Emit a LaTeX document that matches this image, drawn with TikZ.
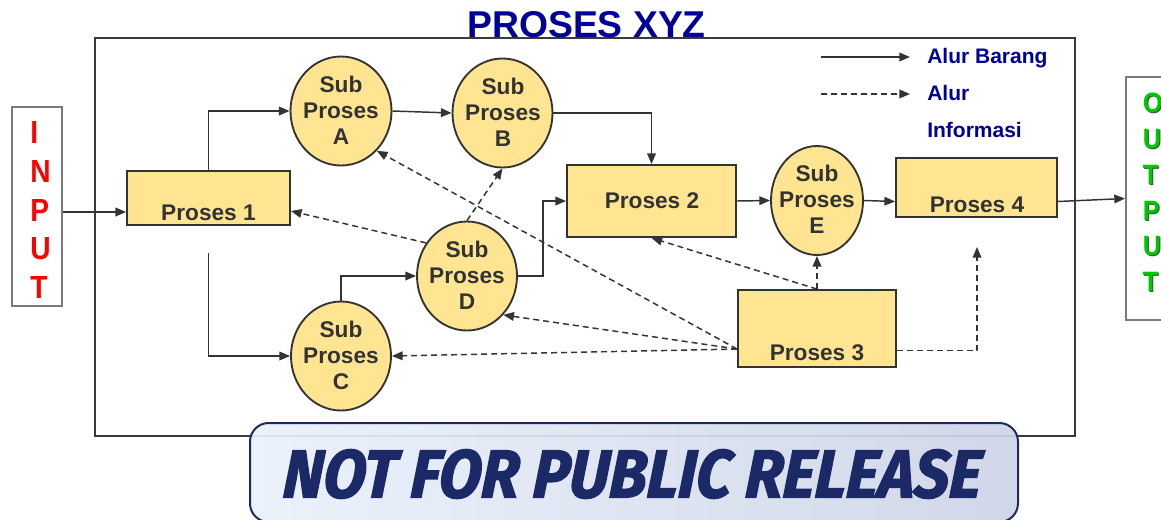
\documentclass[tikz,border=0pt]{standalone}
\usepackage{fontspec}
\usepackage{graphicx}
\setmainfont{Liberation Sans}
\newfontfamily\narrowfont[FakeStretch=0.88]{Liberation Sans}
\newfontfamily\outfont[FakeStretch=0.9]{Liberation Sans}
\newfontfamily\wmfont[FakeBold=2.2,FakeSlant=0.08]{Fira Sans}
\usetikzlibrary{arrows.meta,shapes.geometric,calc}

\definecolor{ink}{HTML}{333333}
\definecolor{boxfill}{HTML}{FFE591}
\definecolor{titleblue}{HTML}{000099}
\definecolor{framegray}{HTML}{3A3A3A}
\definecolor{sidegray}{HTML}{7A7A7A}
\definecolor{outgreen}{HTML}{00C800}
\definecolor{outshadow}{HTML}{2E5A2E}
\definecolor{wmnavy}{HTML}{1B2A66}
\definecolor{wmleft}{HTML}{E9F1FB}
\definecolor{wmright}{HTML}{CDD4E6}

\tikzset{
  pbox/.style={draw=ink, line width=1.4pt, fill=boxfill, inner sep=0pt},
  subproc/.style={ellipse, draw=ink, line width=1.4pt, fill=boxfill, inner sep=0pt,
    minimum width=75pt, minimum height=81.75pt},
  subtext/.style={align=center, text=ink, inner sep=0pt,
    font=\fontsize{17}{19.5}\selectfont\bfseries},
  ptext/.style={anchor=base, text=ink, inner sep=0pt,
    font=\fontsize{17}{20}\selectfont\bfseries},
  legtext/.style={anchor=base west, text=titleblue, inner sep=0pt,
    font=\fontsize{15.75}{18}\selectfont\bfseries},
  sidebox/.style={draw=sidegray, line width=1.5pt, fill=white, inner sep=0pt},
  flow/.style={draw=ink, line width=1.1pt, -{Triangle[length=8pt,width=6.5pt]}},
  info/.style={flow, dash pattern=on 4.5pt off 3pt},
}

\begin{document}
\begin{tikzpicture}[x=0.75pt, y=-0.75pt]
\useasboundingbox (0,0) rectangle (1161,519);
\clip (0,0) rectangle (1161,519);

% outer process frame and title
\node[draw=framegray, line width=1.2pt, minimum width=735pt, minimum height=298.5pt,
  inner sep=0pt] (frame) at (585,237) {};
\node[anchor=base, text=titleblue, inner sep=0pt,
  font=\fontsize{28}{30}\selectfont\bfseries] (title) at (586.5,37) {PROSES XYZ};

% input and output columns
\node[sidebox, minimum width=37.5pt, minimum height=149.25pt] (IN) at (37,206.5) {};
\node[anchor=west, align=left, text=red, inner sep=0pt,
  font=\narrowfont\fontsize{24}{28.9}\selectfont\bfseries] (INtxt) at (30,210)
  {I\\N\\P\\U\\T};

\node[sidebox, minimum width=48pt, minimum height=182.25pt] (OUT) at (1158,198.5) {};
\node[anchor=west, align=left, text=outshadow, inner sep=0pt,
  font=\outfont\fontsize{21}{26.85}\selectfont\bfseries] (OUTsh) at (1143.5,193.5)
  {O\\U\\T\\P\\U\\T};
\node[anchor=west, align=left, text=outgreen, inner sep=0pt,
  font=\outfont\fontsize{21}{26.85}\selectfont\bfseries] (OUTtxt) at (1142.5,192.5)
  {O\\U\\T\\P\\U\\T};

% process boxes
\node[pbox, minimum width=122.25pt, minimum height=40.5pt]  (P1) at (208.5,198) {};
\node[ptext] (P1t) at (208.5,220) {Proses 1};
\node[pbox, minimum width=126.75pt, minimum height=54pt]    (P2) at (651.5,201) {};
\node[ptext] (P2t) at (652,208.5) {Proses 2};
\node[pbox, minimum width=118.5pt, minimum height=57.75pt]  (P3) at (817,328.5) {};
\node[ptext] (P3t) at (817,360) {Proses 3};
\node[pbox, minimum width=120.75pt, minimum height=44.25pt] (P4) at (976.5,187.5) {};
\node[ptext] (P4t) at (977,212) {Proses 4};

% sub-processes
\node[subproc, minimum width=75.75pt] (A) at (341,111) {};
\node[subtext] (At) at (341,110) {Sub\\Proses\\A};
\node[subproc] (B) at (502.5,113) {};
\node[subtext] (Bt) at (503,112) {Sub\\Proses\\B};
\node[subproc] (C) at (341,356) {};
\node[subtext] (Ct) at (341,355) {Sub\\Proses\\C};
\node[subproc] (D) at (467,276) {};
\node[subtext] (Dt) at (467,275) {Sub\\Proses\\D};
\node[subproc, minimum width=69pt] (E) at (817,200.5) {};
\node[subtext] (Et) at (817,199.5) {Sub\\Proses\\E};

% material flow
\coordinate (p1in) at ([yshift=-10.5pt]P1.west);
\draw[flow] (IN.east |- p1in) -- (p1in);
\draw[flow] (P1.north) |- (A.west);
\coordinate (p1down) at ([yshift=-20.25pt]P1.south);
\draw[flow] (p1down) |- (C.west);
\draw[flow] (A.east) -- (B.west);
\draw[flow] (B.east) -| (P2.north);
\draw[flow] (C.north) |- (D.west);
\draw[flow] (D.east) -- ++(25,0) |- (P2.west);
\draw[flow] (P2.east) -- (E.west);
\draw[flow] (E.east) -- ([yshift=-10.5pt]P4.west);
\draw[flow] ([yshift=-10.5pt]P4.east) -- (OUT.west);

% information flow
\coordinate (p3src) at ([yshift=-15.4pt]P3.west);
\draw[info] (D.141) -- ([yshift=-9.75pt]P1.east);
\draw[info] (D.north) -- (B.south);
\draw[info] (p3src) -- (A.-48);
\draw[info] (p3src) -- (D.-47);
\draw[info] (p3src) -- (C.east);
\draw[info] (P3.north) -- (P2.south);
\draw[info] (P3.north) -- (E.south);
\coordinate (p4hint) at (977,247);
\draw[info] ([yshift=-16.5pt]P3.east) -| (p4hint);

% legend
\coordinate (lg1a) at (821,57);
\coordinate (lg1b) at (910,57);
\coordinate (lg2a) at (821,94);
\coordinate (lg2b) at (910,94);
\draw[flow] (lg1a) -- (lg1b);
\draw[info] (lg2a) -- (lg2b);
\node[legtext] (lgA) at (927,63) {Alur Barang};
\node[legtext] (lgB) at (927,100) {Alur};
\node[legtext] (lgC) at (927,137) {Informasi};

% release banner
\node[draw=wmnavy, line width=1.5pt, rounded corners=14pt,
  left color=wmleft, right color=wmright, fill opacity=0.92,
  minimum width=576pt, minimum height=74.25pt, inner sep=0pt] (wmbox) at (634,472.5) {};
\node[text=wmnavy, inner sep=0pt] (wm) at (631,474)
  {\resizebox{523.5pt}{36pt}{\wmfont\bfseries\itshape NOT FOR PUBLIC RELEASE}};
\end{tikzpicture}
\end{document}
